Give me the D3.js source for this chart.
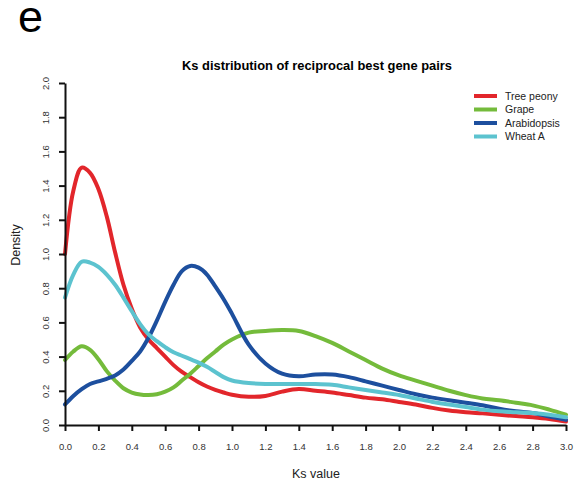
<!DOCTYPE html>
<html>
<head>
<meta charset="utf-8">
<script src="https://cdn.jsdelivr.net/npm/d3@7"></script>
<style>
  body { margin: 0; background: #fff; }
  text { font-family: "Liberation Sans", Arial, sans-serif; }
</style>
</head>
<body>
<div id="chart"></div>
<script>
// Ks grid (0.05 steps up to 1.0, then 0.1 steps)
const ks = [0, 0.05, 0.1, 0.15, 0.2, 0.25, 0.3, 0.35, 0.4, 0.45, 0.5,
  0.55, 0.6, 0.65, 0.7, 0.75, 0.8, 0.85, 0.9, 0.95, 1.0,
  1.1, 1.2, 1.3, 1.4, 1.5, 1.6, 1.7, 1.8, 1.9, 2.0,
  2.1, 2.2, 2.3, 2.4, 2.5, 2.6, 2.7, 2.8, 2.9, 3.0];

const treePeony = [1.0, 1.37, 1.505, 1.475, 1.38, 1.22, 1.01, 0.82, 0.68, 0.57, 0.50,
  0.45, 0.40, 0.35, 0.31, 0.28, 0.25, 0.225, 0.205, 0.19, 0.177,
  0.165, 0.17, 0.195, 0.21, 0.20, 0.19, 0.175, 0.16, 0.15, 0.135,
  0.12, 0.10, 0.085, 0.075, 0.068, 0.06, 0.052, 0.045, 0.035, 0.02];

const grape = [0.38, 0.43, 0.46, 0.44, 0.385, 0.315, 0.26, 0.215, 0.19, 0.178, 0.175,
  0.18, 0.195, 0.22, 0.26, 0.30, 0.345, 0.39, 0.43, 0.47, 0.50,
  0.54, 0.55, 0.555, 0.55, 0.52, 0.48, 0.43, 0.38, 0.33, 0.29,
  0.26, 0.23, 0.20, 0.175, 0.155, 0.145, 0.13, 0.115, 0.09, 0.06];

const arabidopsis = [0.12, 0.17, 0.21, 0.24, 0.255, 0.27, 0.29, 0.325, 0.375, 0.43, 0.51,
  0.61, 0.72, 0.82, 0.90, 0.93, 0.92, 0.88, 0.81, 0.735, 0.65,
  0.47, 0.36, 0.30, 0.285, 0.295, 0.295, 0.28, 0.255, 0.23, 0.205,
  0.18, 0.16, 0.145, 0.13, 0.115, 0.095, 0.08, 0.07, 0.05, 0.03];

const wheatA = [0.745, 0.88, 0.955, 0.95, 0.925, 0.88, 0.82, 0.745, 0.665, 0.59, 0.53,
  0.49, 0.455, 0.425, 0.405, 0.385, 0.365, 0.34, 0.31, 0.28, 0.26,
  0.245, 0.24, 0.24, 0.24, 0.24, 0.235, 0.22, 0.205, 0.19, 0.175,
  0.155, 0.135, 0.12, 0.105, 0.09, 0.08, 0.075, 0.07, 0.06, 0.045];

const seriesNames = ["Tree peony", "Grape", "Arabidopsis", "Wheat A"];
const seriesValues = [treePeony, grape, arabidopsis, wheatA];
const seriesColors = ["#e2262b", "#74bb3b", "#1d4f9e", "#5cc3cf"];

const xTicks = d3.range(0, 3.01, 0.2);
const yTicks = d3.range(0, 2.01, 0.2);

const width = 581, height = 483;

const svg = d3.select("#chart").append("svg")
  .attr("width", width)
  .attr("height", height);

const x = d3.scaleLinear().domain([0, 3]).range([65, 566]);
const y = d3.scaleLinear().domain([0, 2]).range([425, 83]);

// panel letter
svg.append("text")
  .attr("x", 18).attr("y", 32)
  .style("font-size", "45px")
  .text("e");

// title
svg.append("text")
  .attr("x", 317).attr("y", 70)
  .attr("text-anchor", "middle")
  .style("font-size", "12.9px")
  .style("font-weight", "bold")
  .text("Ks distribution of reciprocal best gene pairs");

// curves
const line = d3.line()
  .x(d => x(d[0]))
  .y(d => y(d[1]))
  .curve(d3.curveCatmullRom.alpha(0.5));

seriesValues.forEach((vals, i) => {
  svg.append("path")
    .datum(ks.map((k, j) => [k, vals[j]]))
    .attr("fill", "none")
    .attr("stroke", seriesColors[i])
    .attr("stroke-width", 4)
    .attr("stroke-linecap", "round")
    .attr("stroke-linejoin", "round")
    .attr("d", line);
});

// axes
const xAxis = svg.append("g")
  .attr("transform", `translate(0,${y(0)})`)
  .call(d3.axisBottom(x).tickValues(xTicks).tickFormat(d3.format(".1f"))
    .tickSizeOuter(0).tickSizeInner(6).tickPadding(12));
const yAxis = svg.append("g")
  .attr("transform", `translate(${x(0)},0)`)
  .call(d3.axisLeft(y).tickValues(yTicks).tickFormat(d3.format(".1f"))
    .tickSizeOuter(0).tickSizeInner(6).tickPadding(12));

[xAxis, yAxis].forEach(g => {
  g.select(".domain").attr("stroke", "#111").attr("stroke-width", 2);
  g.selectAll(".tick line").attr("stroke", "#111").attr("stroke-width", 2);
  g.selectAll(".tick text")
    .attr("fill", "#333")
    .style("font-size", "9.5px")
    .style("font-family", "'Liberation Sans', Arial, sans-serif");
});

yAxis.selectAll(".tick text")
  .attr("x", 0).attr("dy", null)
  .attr("text-anchor", "middle")
  .attr("transform", "translate(-20,0) rotate(-90)")
  .attr("y", 3.5);

// axis titles
svg.append("text")
  .attr("x", 316).attr("y", 478)
  .attr("text-anchor", "middle")
  .style("font-size", "12.5px")
  .attr("fill", "#222")
  .text("Ks value");

svg.append("text")
  .attr("transform", "translate(20,245) rotate(-90)")
  .attr("text-anchor", "middle")
  .style("font-size", "12.5px")
  .attr("fill", "#222")
  .text("Density");

// legend
const legend = svg.append("g");
seriesNames.forEach((name, i) => {
  const ly = 96 + i * 13.5;
  legend.append("line")
    .attr("x1", 474).attr("x2", 497)
    .attr("y1", ly).attr("y2", ly)
    .attr("stroke", seriesColors[i])
    .attr("stroke-width", 4);
  legend.append("text")
    .attr("x", 505).attr("y", ly + 3.7)
    .style("font-size", "10.5px")
    .attr("fill", "#222")
    .text(name);
});
</script>
</body>
</html>
